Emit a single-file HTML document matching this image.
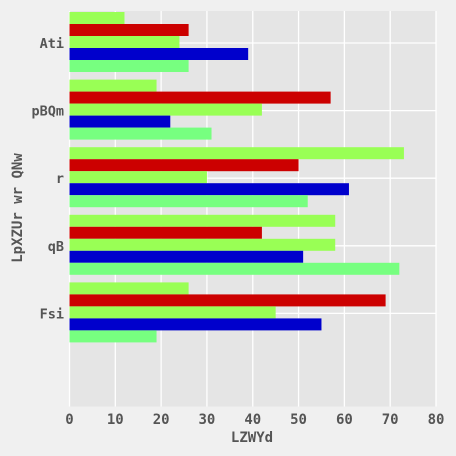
<!DOCTYPE html>
<html><head><meta charset="utf-8"><style>
html,body{margin:0;background:#f0f0f0;overflow:hidden;width:456px;height:456px;}
svg{display:block;}
svg text{font-family:"DejaVu Sans Mono","Liberation Mono",monospace;font-weight:bold;fill:#555;}
</style></head><body>
<svg width="456" height="456">
<rect x="0" y="0" width="456" height="456" fill="#f0f0f0"/>
<rect x="69.5" y="11" width="366.5" height="395.5" fill="#e5e5e5"/>
<g id="grid"></g><g id="bars"></g><g id="labels"></g>
<text x="252" y="442" text-anchor="middle" font-size="14">LZWYd</text>
<text transform="translate(22,208) rotate(-90)" text-anchor="middle" font-size="14">LpXZUr wr QNw</text>
</svg>
<script>
const categories=["Ati","pBQm","r","qB","Fsi"];
const s1=[12,19,73,58,26];
const s2=[26,57,50,42,69];
const s3=[24,42,30,58,45];
const s4=[39,22,61,51,55];
const s5=[26,31,52,72,19];
const xTicks=[0,10,20,30,40,50,60,70,80];
const series=[s1,s2,s3,s4,s5];
const colors=["#99ff55","#cc0000","#99ff55","#0000cc","#77ff80"];
const NS="http://www.w3.org/2000/svg";
const x0=69.5,x1=436,xMax=80;
const xs=v=>x0+(x1-x0)*v/xMax;
const yc=i=>43+i*67.6;
const barH=12;
const g=document.getElementById('grid'),b=document.getElementById('bars'),l=document.getElementById('labels');
function mk(tag,attrs,parent){const e=document.createElementNS(NS,tag);for(const k in attrs)e.setAttribute(k,attrs[k]);parent.appendChild(e);return e;}
xTicks.forEach(t=>{
  const ln=mk('line',{x1:xs(t),x2:xs(t),y1:11,y2:406.5,stroke:'#fff','stroke-width':1.3},g);
  
  
  const tx=mk('text',{x:xs(t),y:424,'text-anchor':'middle','font-size':14},l);
  tx.textContent=t;
  
  
});
categories.forEach((c,i)=>{
  const ln=mk('line',{x1:x0,x2:x1,y1:yc(i),y2:yc(i),stroke:'#fff','stroke-width':1.3},g);
  
  
  const tx=mk('text',{x:64,y:yc(i)+5,'text-anchor':'end','font-size':13.5},l);
  tx.textContent=c;
  
  
  series.forEach((s,j)=>{
    const r=mk('rect',{x:x0,y:yc(i)-31+j*barH,width:xs(s[i])-x0,height:barH,fill:colors[j]},b);
    
    
  });
});
</script>
</body></html>
